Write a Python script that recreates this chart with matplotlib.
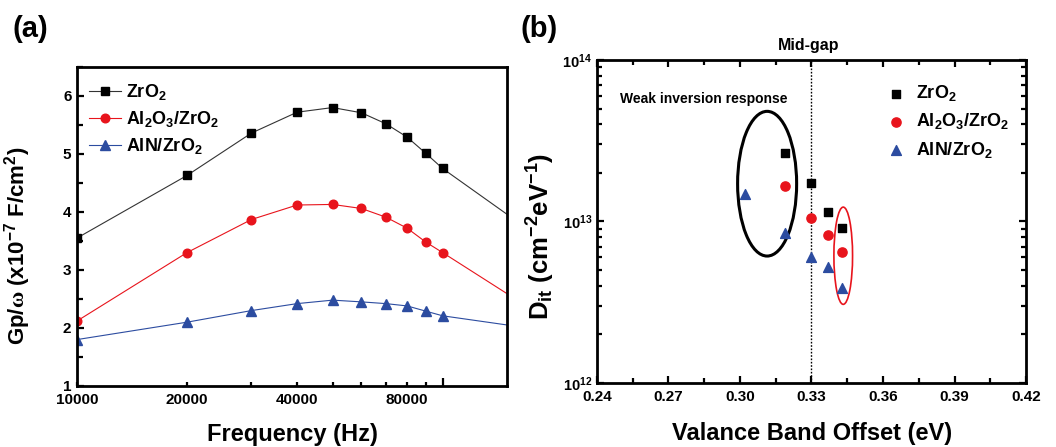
import matplotlib
matplotlib.use("Agg")
import matplotlib.pyplot as plt
from matplotlib.patches import Ellipse
from matplotlib.ticker import FixedLocator, NullFormatter, LogLocator

plt.rcParams['font.family'] = ['Liberation Sans', 'DejaVu Sans']
plt.rcParams['font.weight'] = 'bold'
plt.rcParams['axes.labelweight'] = 'bold'
plt.rcParams['mathtext.fontset'] = 'custom'
plt.rcParams['mathtext.rm'] = 'Liberation Sans:bold'
plt.rcParams['mathtext.bf'] = 'Liberation Sans:bold'
plt.rcParams['mathtext.it'] = 'Liberation Sans:bold'
plt.rcParams['mathtext.sf'] = 'Liberation Serif'
plt.rcParams['mathtext.default'] = 'bf'

# ---- panel (a): conductance peak vs frequency ----
freq = [10000, 20000, 30000, 40000, 50000, 60000, 70000, 80000, 90000, 100000, 200000]
gp_zro2 = [3.55, 4.63, 5.36, 5.72, 5.80, 5.71, 5.52, 5.29, 5.01, 4.75, 3.40]
gp_al2o3 = [2.12, 3.30, 3.87, 4.12, 4.13, 4.06, 3.91, 3.72, 3.48, 3.30, 2.09]
gp_aln = [1.80, 2.10, 2.30, 2.42, 2.48, 2.45, 2.42, 2.38, 2.29, 2.21, 1.94]
freq_ticks = [10000, 20000, 40000, 80000, 100000]
freq_labels = ['10000', '20000', '40000', '80000', '']
freq_minor = [30000, 50000, 60000, 70000, 90000]

# ---- panel (b): Dit vs valence band offset ----
vbo_zro2 = [0.319, 0.330, 0.337, 0.343]
dit_zro2 = [2.65e13, 1.74e13, 1.14e13, 9.1e12]
vbo_al2o3 = [0.319, 0.330, 0.337, 0.343]
dit_al2o3 = [1.65e13, 1.05e13, 8.2e12, 6.45e12]
vbo_aln = [0.302, 0.319, 0.330, 0.337, 0.343]
dit_aln = [1.47e13, 8.5e12, 6.05e12, 5.2e12, 3.85e12]
vbo_ticks = [0.24, 0.27, 0.30, 0.33, 0.36, 0.39, 0.42]
vbo_minor = [0.255, 0.285, 0.315, 0.345, 0.375, 0.405]
midgap = 0.33

names = ['ZrO$_2$', 'Al$_2$O$_3$/ZrO$_2$', 'AlN/ZrO$_2$']
RED = '#e8141c'
BLUE = '#2c4ca0'

fig = plt.figure(figsize=(10.56, 4.47), dpi=100)

# ================= (a) =================
ax1 = fig.add_axes([0.0729, 0.1365, 0.4072, 0.7137])
ax1.plot(freq, gp_zro2, '-s', color='#333333', mfc='black', mec='black', ms=5.8, lw=0.8, label=names[0])
ax1.plot(freq, gp_al2o3, '-o', color=RED, ms=6.2, lw=0.8, label=names[1])
ax1.plot(freq, gp_aln, '-^', color=BLUE, ms=6.8, lw=0.8, label=names[2])
ax1.set_xscale('log')
ax1.set_xlim(10000, 150000)
ax1.set_ylim(1, 6.5)
ax1.xaxis.set_major_locator(FixedLocator(freq_ticks))
ax1.set_xticklabels(freq_labels)
ax1.xaxis.set_minor_locator(FixedLocator(freq_minor))
ax1.xaxis.set_minor_formatter(NullFormatter())
ax1.set_yticks([1, 2, 3, 4, 5, 6])
ax1.yaxis.set_minor_locator(FixedLocator([1.5, 2.5, 3.5, 4.5, 5.5, 6.5]))
ax1.tick_params(which='both', direction='in', top=False, right=False, width=1.6, labelsize=11)
ax1.tick_params(axis='x', which='both', length=3, pad=5)
ax1.tick_params(axis='y', which='major', length=5, pad=4)
ax1.tick_params(axis='y', which='minor', length=4)
ax1.xaxis.get_major_ticks()[-1].tick1line.set_markersize(6)
for s in ax1.spines.values():
    s.set_linewidth(2)
ax1.set_xlabel('Frequency (Hz)', fontsize=17, va='top')
ax1.xaxis.set_label_coords(0.5, -0.115)
ax1.set_ylabel(r'Gp/$\mathsf{\omega}$ (x10$^{-7}$ F/cm$^2$)', fontsize=16)
ax1.yaxis.set_label_coords(-0.102, 0.44)
ax1.legend(loc='upper left', bbox_to_anchor=(0.01, 0.975), frameon=False, fontsize=13,
           handlelength=1.8, handletextpad=0.25, labelspacing=0.38, borderaxespad=0)

# ================= (b) =================
ax2 = fig.add_axes([0.5653, 0.1432, 0.4063, 0.7226])
ax2.set_yscale('log')
ax2.set_xlim(0.24, 0.42)
ax2.set_ylim(1e12, 1e14)
ax2.axvline(midgap, color='black', ls=(0, (1.2, 1.2)), lw=1.0, zorder=1)
ax2.scatter(vbo_zro2, dit_zro2, marker='s', s=36, color='black', label=names[0], zorder=3)
ax2.scatter(vbo_al2o3, dit_al2o3, marker='o', s=44, color=RED, label=names[1], zorder=3)
ax2.scatter(vbo_aln, dit_aln, marker='^', s=50, color=BLUE, label=names[2], zorder=3)
ax2.add_patch(Ellipse((0.3966, 0.617), 0.1376, 0.448, transform=ax2.transAxes,
                      fill=False, ec='black', lw=2.2, zorder=2))
ax2.add_patch(Ellipse((0.574, 0.394), 0.0435, 0.301, transform=ax2.transAxes,
                      fill=False, ec=RED, lw=1.2, zorder=2))
ax2.set_xticks(vbo_ticks)
ax2.set_xticklabels([f'{v:.2f}' for v in vbo_ticks])
ax2.xaxis.set_minor_locator(FixedLocator(vbo_minor))
ax2.set_yticks([1e12, 1e13, 1e14])
ax2.set_yticklabels([r'10$^{12}$', r'10$^{13}$', r'10$^{14}$'], fontsize=10.5)
ax2.yaxis.set_minor_locator(LogLocator(base=10, subs=range(2, 10)))
ax2.yaxis.set_minor_formatter(NullFormatter())
ax2.tick_params(which='both', direction='in', top=True, right=True, width=1.6)
ax2.tick_params(axis='x', labelsize=11, pad=5)
ax2.tick_params(which='major', length=5)
ax2.tick_params(which='minor', length=3.5)
for s in ax2.spines.values():
    s.set_linewidth(2)
ax2.text(midgap - 0.001, 1.046, 'Mid-gap', transform=ax2.get_xaxis_transform(),
         ha='center', va='center', fontsize=11.5)
ax2.text(0.249, 0.88, 'Weak inversion response', transform=ax2.transAxes,
         ha='center', va='center', fontsize=10)
ax2.set_xlabel('Valance Band Offset (eV)', fontsize=17, va='top')
ax2.xaxis.set_label_coords(0.501, -0.12)
ax2.set_ylabel(r'D$_{it}$ (cm$^{-2}$eV$^{-1}$)', fontsize=18.5)
ax2.yaxis.set_label_coords(-0.093, 0.455)
ax2.legend(loc='upper left', bbox_to_anchor=(0.66, 0.95), frameon=False, fontsize=13,
           handlelength=1.0, handletextpad=0.6, labelspacing=0.45, borderaxespad=0,
           scatterpoints=1)

fig.text(12 / 1056, 1 - 29 / 447, '(a)', fontsize=21, fontweight='bold', va='center', ha='left')
fig.text(520 / 1056, 1 - 29 / 447, '(b)', fontsize=21, fontweight='bold', va='center', ha='left')

fig.savefig('out.png', dpi=100)
